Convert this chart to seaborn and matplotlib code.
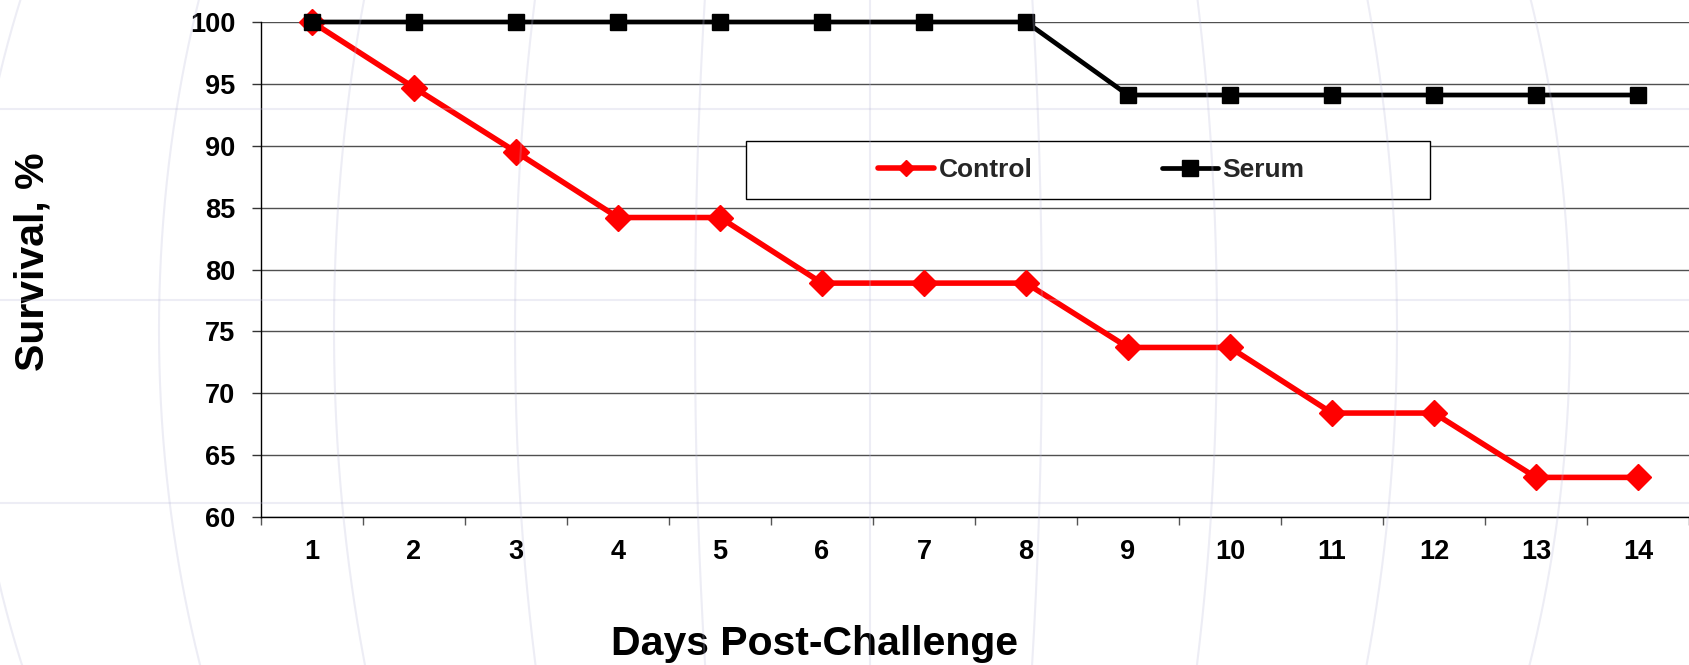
import numpy as np
import pandas as pd
import matplotlib
matplotlib.use("Agg")
import matplotlib.pyplot as plt
from matplotlib.lines import Line2D
from matplotlib.patches import Rectangle
import seaborn as sns

# Survival data (% of animals alive) per day after challenge
days = list(range(1, 15))
control = [100, 94.7, 89.5, 84.2, 84.2, 78.9, 78.9, 78.9, 73.7, 73.7, 68.4, 68.4, 63.2, 63.2]
serum = [100, 100, 100, 100, 100, 100, 100, 100, 94.1, 94.1, 94.1, 94.1, 94.1, 94.1]
y_ticks = [60, 65, 70, 75, 80, 85, 90, 95, 100]
group_names = ["Control", "Serum"]

sns.set_theme(style="white")
plt.rcParams["font.family"] = ["Liberation Sans", "DejaVu Sans"]
plt.rcParams["font.weight"] = "bold"

W, H = 1690, 665
fig = plt.figure(figsize=(W / 100, H / 100), dpi=100)
fig.patch.set_facecolor("white")

# Plot area in pixel terms
L, R_, T, B = 261, 1689, 22, 517
ax = fig.add_axes([L / W, 1 - B / H, (R_ - L) / W, (B - T) / H], zorder=1)
ax.patch.set_alpha(0)

sns.lineplot(x=days, y=control, ax=ax, color="#ff0000", lw=4.0, marker="D",
             markersize=13, markeredgecolor="#ff0000", markeredgewidth=1,
             clip_on=False, legend=False, zorder=3)
sns.lineplot(x=days, y=serum, ax=ax, color="black", lw=3.4, marker="s",
             markersize=11.5, markeredgecolor="black", markeredgewidth=1,
             clip_on=False, legend=False, zorder=4)

ax.set_xlim(0.5, 14.5)
ax.set_ylim(60, 100)
ax.set_xticks(days)
ax.set_xticklabels([str(d) for d in days])
ax.set_xticks(np.arange(0.5, 15, 1), minor=True)
ax.tick_params(axis="x", which="major", length=0, pad=15.5, labelsize=19.5)
ax.tick_params(axis="x", which="minor", length=6, width=1.0, color="#555555",
               direction="out", bottom=True)
ax.set_yticks(y_ticks)
ax.tick_params(axis="y", which="major", length=6.5, width=1.0, color="#333333",
               direction="out", left=True, pad=12, labelsize=19.5)
for lab in ax.get_xticklabels() + ax.get_yticklabels():
    lab.set_fontweight("bold")
    lab.set_color("black")

ax.grid(False)
ax.yaxis.grid(True, color="#505050", lw=1.0)
ax.set_axisbelow(True)
for s in ["top", "right"]:
    ax.spines[s].set_visible(False)
for s in ["left", "bottom"]:
    ax.spines[s].set_color("black")
    ax.spines[s].set_linewidth(1.0)

ax.set_ylabel("Survival, %", fontsize=29.5, fontweight="bold", color="black", va="center")
ax.yaxis.set_label_coords((33 - L) / (R_ - L), (B - 262) / (B - T))
ax.set_xlabel("Days Post-Challenge", fontsize=29.5, fontweight="bold", color="black", va="baseline")
ax.xaxis.set_label_coords((815 - L) / (R_ - L), (B - 655) / (B - T))

# Legend frame and entries
box = Rectangle((746 / W, 1 - 199 / H), (1430 - 746) / W, (199 - 141) / H,
                transform=fig.transFigure, facecolor="white", edgecolor="black",
                lw=1.0, zorder=5, clip_on=False)
ax.add_patch(box)
handles = [
    Line2D([], [], color="#ff0000", lw=4.0, marker="D", markersize=8.5,
           markeredgecolor="#ff0000", markeredgewidth=1),
    Line2D([], [], color="black", lw=3.4, marker="s", markersize=11.5,
           markeredgecolor="black", markeredgewidth=1),
]
leg = ax.legend(handles, group_names, ncol=2, frameon=False, loc="center",
                bbox_to_anchor=(1091 / W, 1 - 170 / H), bbox_transform=fig.transFigure,
                prop={"size": 19, "weight": "bold"}, handlelength=2.15,
                handletextpad=0.15, columnspacing=4.9, borderpad=0, borderaxespad=0,
                markerscale=1.0)
leg.set_zorder(6)

# Faint globe watermark laid over the figure
wm = fig.add_axes([0, 0, 1, 1], zorder=10)
wm.set_xlim(0, W)
wm.set_ylim(H, 0)
wm.axis("off")
wm.patch.set_alpha(0)
cx, cy, rad = 870, 330, 1000
yy = np.linspace(-10, H + 10, 300)
for d in [-900, -711, -536, -355, -175, 0, 172, 347, 527, 700]:
    xx = cx + d * np.sqrt(1 - ((yy - cy) / rad) ** 2)
    wm.plot(xx, yy, color="#b8b8d8", alpha=0.25, lw=1.5)
for yh in [109, 300, 503]:
    wm.plot([0, W], [yh, yh], color="#b8b8d8", alpha=0.25, lw=1.5)

fig.savefig("out.png", dpi=100, facecolor="white")
